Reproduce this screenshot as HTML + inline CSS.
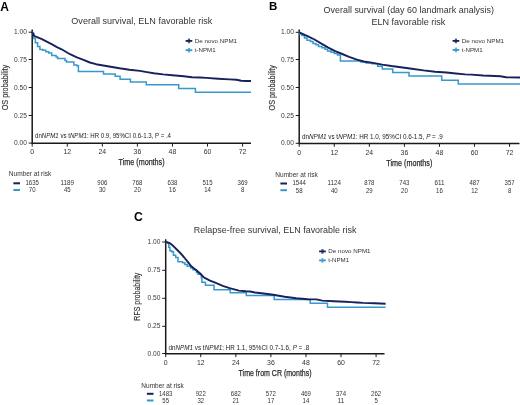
<!DOCTYPE html><html><head><meta charset="utf-8"><style>html,body{margin:0;padding:0;background:#fff;}svg{display:block;will-change:transform;font-family:"Liberation Sans", sans-serif;}</style></head><body>
<svg width="520" height="405" viewBox="0 0 520 405">
<rect width="520" height="405" fill="#fff"/>
<text x="0.3" y="10.6" font-size="12.0" text-anchor="start" fill="#000" font-weight="bold">A</text>
<text x="268.9" y="10" font-size="11.5" text-anchor="start" fill="#000" font-weight="bold">B</text>
<text x="134" y="221" font-size="12.2" text-anchor="start" fill="#000" font-weight="bold">C</text>
<text x="141.8" y="24.3" font-size="9.9" text-anchor="middle" fill="#333" textLength="141" lengthAdjust="spacingAndGlyphs">Overall survival, ELN favorable risk</text>
<text x="408.8" y="13.3" font-size="9.9" text-anchor="middle" fill="#333" textLength="170.4" lengthAdjust="spacingAndGlyphs">Overall survival (day 60 landmark analysis)</text>
<text x="408.4" y="24.6" font-size="9.9" text-anchor="middle" fill="#333" textLength="74" lengthAdjust="spacingAndGlyphs">ELN favorable risk</text>
<text x="275.2" y="233" font-size="9.9" text-anchor="middle" fill="#333" textLength="162.7" lengthAdjust="spacingAndGlyphs">Relapse-free survival, ELN favorable risk</text>
<path d="M32.2,29.4 V143.25 H251" fill="none" stroke="#1a1a1a" stroke-width="1.5"/>
<path d="M28.7,143.1 H32.2" stroke="#1a1a1a" stroke-width="1"/>
<text x="27" y="145.2" font-size="6.6" text-anchor="end" fill="#3a3a3a" textLength="12.9" lengthAdjust="spacingAndGlyphs">0.00</text>
<path d="M28.7,115.5 H32.2" stroke="#1a1a1a" stroke-width="1"/>
<text x="27" y="117.6" font-size="6.6" text-anchor="end" fill="#3a3a3a" textLength="12.9" lengthAdjust="spacingAndGlyphs">0.25</text>
<path d="M28.7,87.5 H32.2" stroke="#1a1a1a" stroke-width="1"/>
<text x="27" y="89.6" font-size="6.6" text-anchor="end" fill="#3a3a3a" textLength="12.9" lengthAdjust="spacingAndGlyphs">0.50</text>
<path d="M28.7,59.5 H32.2" stroke="#1a1a1a" stroke-width="1"/>
<text x="27" y="61.6" font-size="6.6" text-anchor="end" fill="#3a3a3a" textLength="12.9" lengthAdjust="spacingAndGlyphs">0.75</text>
<path d="M28.7,32.2 H32.2" stroke="#1a1a1a" stroke-width="1"/>
<text x="27" y="34.3" font-size="6.6" text-anchor="end" fill="#3a3a3a" textLength="12.9" lengthAdjust="spacingAndGlyphs">1.00</text>
<path d="M32.2,143.1 V146.6" stroke="#1a1a1a" stroke-width="1"/>
<text x="32.2" y="154.3" font-size="6.9" text-anchor="middle" fill="#333">0</text>
<path d="M67.26,143.1 V146.6" stroke="#1a1a1a" stroke-width="1"/>
<text x="67.26" y="154.3" font-size="6.9" text-anchor="middle" fill="#333">12</text>
<path d="M102.33,143.1 V146.6" stroke="#1a1a1a" stroke-width="1"/>
<text x="102.33" y="154.3" font-size="6.9" text-anchor="middle" fill="#333">24</text>
<path d="M137.39,143.1 V146.6" stroke="#1a1a1a" stroke-width="1"/>
<text x="137.39" y="154.3" font-size="6.9" text-anchor="middle" fill="#333">36</text>
<path d="M172.46,143.1 V146.6" stroke="#1a1a1a" stroke-width="1"/>
<text x="172.46" y="154.3" font-size="6.9" text-anchor="middle" fill="#333">48</text>
<path d="M207.52,143.1 V146.6" stroke="#1a1a1a" stroke-width="1"/>
<text x="207.52" y="154.3" font-size="6.9" text-anchor="middle" fill="#333">60</text>
<path d="M242.58,143.1 V146.6" stroke="#1a1a1a" stroke-width="1"/>
<text x="242.58" y="154.3" font-size="6.9" text-anchor="middle" fill="#333">72</text>
<text x="141.6" y="165.3" font-size="9.0" text-anchor="middle" fill="#2a2a2a" textLength="46" lengthAdjust="spacingAndGlyphs" stroke="#2a2a2a" stroke-width="0.25">Time (months)</text>
<text x="0" y="0" font-size="8.2" text-anchor="middle" fill="#333" textLength="45.5" lengthAdjust="spacingAndGlyphs" stroke="#333" stroke-width="0.15" transform="translate(8,87.55) rotate(-90)">OS probability</text>
<text x="35" y="138.3" font-size="7" fill="#222" textLength="136" lengthAdjust="spacingAndGlyphs">dn<tspan font-style="italic">NPM1</tspan> vs t<tspan font-style="italic">NPM1</tspan>: HR 0.9, 95%CI 0.6-1.3, P = .4</text>
<rect x="185.6" y="40" width="6.7" height="1.8" fill="#17215e"/>
<rect x="187.85" y="38.6" width="2.2" height="4.6" fill="#17215e" fill-opacity="0.75"/>
<rect x="185.6" y="49.3" width="6.7" height="1.8" fill="#3799cb"/>
<rect x="187.85" y="47.9" width="2.2" height="4.6" fill="#3799cb" fill-opacity="0.75"/>
<text x="194.8" y="42.9" font-size="5.8" text-anchor="start" fill="#333" textLength="42.3" lengthAdjust="spacingAndGlyphs">De novo NPM1</text>
<text x="194.8" y="52.2" font-size="5.8" text-anchor="start" fill="#333" textLength="20.8" lengthAdjust="spacingAndGlyphs">t-NPM1</text>
<text x="8.8" y="175.9" font-size="6.3" text-anchor="start" fill="#333" textLength="42.5" lengthAdjust="spacingAndGlyphs">Number at risk</text>
<rect x="13.4" y="182.3" width="6.6" height="2" fill="#17215e"/>
<rect x="13.4" y="189" width="6.6" height="2" fill="#3799cb"/>
<text x="32.2" y="185.3" font-size="6.9" text-anchor="middle" fill="#333" textLength="13.4" lengthAdjust="spacingAndGlyphs">1635</text>
<text x="32.2" y="192" font-size="6.9" text-anchor="middle" fill="#333" textLength="6.7" lengthAdjust="spacingAndGlyphs">70</text>
<text x="67.26" y="185.3" font-size="6.9" text-anchor="middle" fill="#333" textLength="13.4" lengthAdjust="spacingAndGlyphs">1189</text>
<text x="67.26" y="192" font-size="6.9" text-anchor="middle" fill="#333" textLength="6.7" lengthAdjust="spacingAndGlyphs">45</text>
<text x="102.33" y="185.3" font-size="6.9" text-anchor="middle" fill="#333" textLength="10.05" lengthAdjust="spacingAndGlyphs">906</text>
<text x="102.33" y="192" font-size="6.9" text-anchor="middle" fill="#333" textLength="6.7" lengthAdjust="spacingAndGlyphs">30</text>
<text x="137.39" y="185.3" font-size="6.9" text-anchor="middle" fill="#333" textLength="10.05" lengthAdjust="spacingAndGlyphs">768</text>
<text x="137.39" y="192" font-size="6.9" text-anchor="middle" fill="#333" textLength="6.7" lengthAdjust="spacingAndGlyphs">20</text>
<text x="172.46" y="185.3" font-size="6.9" text-anchor="middle" fill="#333" textLength="10.05" lengthAdjust="spacingAndGlyphs">638</text>
<text x="172.46" y="192" font-size="6.9" text-anchor="middle" fill="#333" textLength="6.7" lengthAdjust="spacingAndGlyphs">16</text>
<text x="207.52" y="185.3" font-size="6.9" text-anchor="middle" fill="#333" textLength="10.05" lengthAdjust="spacingAndGlyphs">515</text>
<text x="207.52" y="192" font-size="6.9" text-anchor="middle" fill="#333" textLength="6.7" lengthAdjust="spacingAndGlyphs">14</text>
<text x="242.58" y="185.3" font-size="6.9" text-anchor="middle" fill="#333" textLength="10.05" lengthAdjust="spacingAndGlyphs">369</text>
<text x="242.58" y="192" font-size="6.9" text-anchor="middle" fill="#333" textLength="3.35" lengthAdjust="spacingAndGlyphs">8</text>
<path d="M299.2,29.5 V143.45 H519.5" fill="none" stroke="#1a1a1a" stroke-width="1.5"/>
<path d="M295.7,143.3 H299.2" stroke="#1a1a1a" stroke-width="1"/>
<text x="294" y="145.4" font-size="6.6" text-anchor="end" fill="#3a3a3a" textLength="12.9" lengthAdjust="spacingAndGlyphs">0.00</text>
<path d="M295.7,115.5 H299.2" stroke="#1a1a1a" stroke-width="1"/>
<text x="294" y="117.6" font-size="6.6" text-anchor="end" fill="#3a3a3a" textLength="12.9" lengthAdjust="spacingAndGlyphs">0.25</text>
<path d="M295.7,87.5 H299.2" stroke="#1a1a1a" stroke-width="1"/>
<text x="294" y="89.6" font-size="6.6" text-anchor="end" fill="#3a3a3a" textLength="12.9" lengthAdjust="spacingAndGlyphs">0.50</text>
<path d="M295.7,59.5 H299.2" stroke="#1a1a1a" stroke-width="1"/>
<text x="294" y="61.6" font-size="6.6" text-anchor="end" fill="#3a3a3a" textLength="12.9" lengthAdjust="spacingAndGlyphs">0.75</text>
<path d="M295.7,32.3 H299.2" stroke="#1a1a1a" stroke-width="1"/>
<text x="294" y="34.4" font-size="6.6" text-anchor="end" fill="#3a3a3a" textLength="12.9" lengthAdjust="spacingAndGlyphs">1.00</text>
<path d="M299.2,143.3 V146.8" stroke="#1a1a1a" stroke-width="1"/>
<text x="299.2" y="154.5" font-size="6.9" text-anchor="middle" fill="#333">0</text>
<path d="M334.26,143.3 V146.8" stroke="#1a1a1a" stroke-width="1"/>
<text x="334.26" y="154.5" font-size="6.9" text-anchor="middle" fill="#333">12</text>
<path d="M369.33,143.3 V146.8" stroke="#1a1a1a" stroke-width="1"/>
<text x="369.33" y="154.5" font-size="6.9" text-anchor="middle" fill="#333">24</text>
<path d="M404.39,143.3 V146.8" stroke="#1a1a1a" stroke-width="1"/>
<text x="404.39" y="154.5" font-size="6.9" text-anchor="middle" fill="#333">36</text>
<path d="M439.46,143.3 V146.8" stroke="#1a1a1a" stroke-width="1"/>
<text x="439.46" y="154.5" font-size="6.9" text-anchor="middle" fill="#333">48</text>
<path d="M474.52,143.3 V146.8" stroke="#1a1a1a" stroke-width="1"/>
<text x="474.52" y="154.5" font-size="6.9" text-anchor="middle" fill="#333">60</text>
<path d="M509.58,143.3 V146.8" stroke="#1a1a1a" stroke-width="1"/>
<text x="509.58" y="154.5" font-size="6.9" text-anchor="middle" fill="#333">72</text>
<text x="409.35" y="165.5" font-size="9.0" text-anchor="middle" fill="#2a2a2a" textLength="46" lengthAdjust="spacingAndGlyphs" stroke="#2a2a2a" stroke-width="0.25">Time (months)</text>
<text x="0" y="0" font-size="8.2" text-anchor="middle" fill="#333" textLength="45.5" lengthAdjust="spacingAndGlyphs" stroke="#333" stroke-width="0.15" transform="translate(275,87.75) rotate(-90)">OS probability</text>
<text x="302" y="138.9" font-size="7" fill="#222" textLength="140.8" lengthAdjust="spacingAndGlyphs">dn<tspan font-style="italic">NPM1</tspan> vs t<tspan font-style="italic">NPM1</tspan>: HR 1.0, 95%CI 0.6-1.5, <tspan font-style="italic">P</tspan> = .9</text>
<rect x="452.6" y="40" width="6.7" height="1.8" fill="#17215e"/>
<rect x="454.85" y="38.6" width="2.2" height="4.6" fill="#17215e" fill-opacity="0.75"/>
<rect x="452.6" y="49.05" width="6.7" height="1.8" fill="#3799cb"/>
<rect x="454.85" y="47.65" width="2.2" height="4.6" fill="#3799cb" fill-opacity="0.75"/>
<text x="461.8" y="42.9" font-size="5.8" text-anchor="start" fill="#333" textLength="42.3" lengthAdjust="spacingAndGlyphs">De novo NPM1</text>
<text x="461.8" y="51.95" font-size="5.8" text-anchor="start" fill="#333" textLength="20.8" lengthAdjust="spacingAndGlyphs">t-NPM1</text>
<text x="275.3" y="176.8" font-size="6.3" text-anchor="start" fill="#333" textLength="42.5" lengthAdjust="spacingAndGlyphs">Number at risk</text>
<rect x="280.4" y="182.5" width="6.6" height="2" fill="#17215e"/>
<rect x="280.4" y="189.2" width="6.6" height="2" fill="#3799cb"/>
<text x="299.2" y="185.25" font-size="6.9" text-anchor="middle" fill="#333" textLength="13.4" lengthAdjust="spacingAndGlyphs">1544</text>
<text x="299.2" y="192.5" font-size="6.9" text-anchor="middle" fill="#333" textLength="6.7" lengthAdjust="spacingAndGlyphs">58</text>
<text x="334.26" y="185.25" font-size="6.9" text-anchor="middle" fill="#333" textLength="13.4" lengthAdjust="spacingAndGlyphs">1124</text>
<text x="334.26" y="192.5" font-size="6.9" text-anchor="middle" fill="#333" textLength="6.7" lengthAdjust="spacingAndGlyphs">40</text>
<text x="369.33" y="185.25" font-size="6.9" text-anchor="middle" fill="#333" textLength="10.05" lengthAdjust="spacingAndGlyphs">878</text>
<text x="369.33" y="192.5" font-size="6.9" text-anchor="middle" fill="#333" textLength="6.7" lengthAdjust="spacingAndGlyphs">29</text>
<text x="404.39" y="185.25" font-size="6.9" text-anchor="middle" fill="#333" textLength="10.05" lengthAdjust="spacingAndGlyphs">743</text>
<text x="404.39" y="192.5" font-size="6.9" text-anchor="middle" fill="#333" textLength="6.7" lengthAdjust="spacingAndGlyphs">20</text>
<text x="439.46" y="185.25" font-size="6.9" text-anchor="middle" fill="#333" textLength="10.05" lengthAdjust="spacingAndGlyphs">611</text>
<text x="439.46" y="192.5" font-size="6.9" text-anchor="middle" fill="#333" textLength="6.7" lengthAdjust="spacingAndGlyphs">16</text>
<text x="474.52" y="185.25" font-size="6.9" text-anchor="middle" fill="#333" textLength="10.05" lengthAdjust="spacingAndGlyphs">487</text>
<text x="474.52" y="192.5" font-size="6.9" text-anchor="middle" fill="#333" textLength="6.7" lengthAdjust="spacingAndGlyphs">12</text>
<text x="509.58" y="185.25" font-size="6.9" text-anchor="middle" fill="#333" textLength="10.05" lengthAdjust="spacingAndGlyphs">357</text>
<text x="509.58" y="192.5" font-size="6.9" text-anchor="middle" fill="#333" textLength="3.35" lengthAdjust="spacingAndGlyphs">8</text>
<path d="M165.7,239.2 V353.75 H384.5" fill="none" stroke="#1a1a1a" stroke-width="1.5"/>
<path d="M162.2,353.5 H165.7" stroke="#1a1a1a" stroke-width="1"/>
<text x="160.5" y="355.6" font-size="6.6" text-anchor="end" fill="#3a3a3a" textLength="12.9" lengthAdjust="spacingAndGlyphs">0.00</text>
<path d="M162.2,326.3 H165.7" stroke="#1a1a1a" stroke-width="1"/>
<text x="160.5" y="328.4" font-size="6.6" text-anchor="end" fill="#3a3a3a" textLength="12.9" lengthAdjust="spacingAndGlyphs">0.25</text>
<path d="M162.2,298.3 H165.7" stroke="#1a1a1a" stroke-width="1"/>
<text x="160.5" y="300.4" font-size="6.6" text-anchor="end" fill="#3a3a3a" textLength="12.9" lengthAdjust="spacingAndGlyphs">0.50</text>
<path d="M162.2,270.3 H165.7" stroke="#1a1a1a" stroke-width="1"/>
<text x="160.5" y="272.4" font-size="6.6" text-anchor="end" fill="#3a3a3a" textLength="12.9" lengthAdjust="spacingAndGlyphs">0.75</text>
<path d="M162.2,242 H165.7" stroke="#1a1a1a" stroke-width="1"/>
<text x="160.5" y="244.1" font-size="6.6" text-anchor="end" fill="#3a3a3a" textLength="12.9" lengthAdjust="spacingAndGlyphs">1.00</text>
<path d="M165.7,353.6 V357.1" stroke="#1a1a1a" stroke-width="1"/>
<text x="165.7" y="364.8" font-size="6.9" text-anchor="middle" fill="#333">0</text>
<path d="M200.76,353.6 V357.1" stroke="#1a1a1a" stroke-width="1"/>
<text x="200.76" y="364.8" font-size="6.9" text-anchor="middle" fill="#333">12</text>
<path d="M235.83,353.6 V357.1" stroke="#1a1a1a" stroke-width="1"/>
<text x="235.83" y="364.8" font-size="6.9" text-anchor="middle" fill="#333">24</text>
<path d="M270.89,353.6 V357.1" stroke="#1a1a1a" stroke-width="1"/>
<text x="270.89" y="364.8" font-size="6.9" text-anchor="middle" fill="#333">36</text>
<path d="M305.96,353.6 V357.1" stroke="#1a1a1a" stroke-width="1"/>
<text x="305.96" y="364.8" font-size="6.9" text-anchor="middle" fill="#333">48</text>
<path d="M341.02,353.6 V357.1" stroke="#1a1a1a" stroke-width="1"/>
<text x="341.02" y="364.8" font-size="6.9" text-anchor="middle" fill="#333">60</text>
<path d="M376.08,353.6 V357.1" stroke="#1a1a1a" stroke-width="1"/>
<text x="376.08" y="364.8" font-size="6.9" text-anchor="middle" fill="#333">72</text>
<text x="275.1" y="375.8" font-size="9.0" text-anchor="middle" fill="#2a2a2a" textLength="73" lengthAdjust="spacingAndGlyphs" stroke="#2a2a2a" stroke-width="0.25">Time from CR (months)</text>
<text x="0" y="0" font-size="8.2" text-anchor="middle" fill="#333" textLength="48" lengthAdjust="spacingAndGlyphs" stroke="#333" stroke-width="0.15" transform="translate(140.3,296.65) rotate(-90)">RFS probability</text>
<text x="168.5" y="350.4" font-size="7" fill="#222" textLength="140.8" lengthAdjust="spacingAndGlyphs">dn<tspan font-style="italic">NPM1</tspan> vs t<tspan font-style="italic">NPM1</tspan>: HR 1.1, 95%CI 0.7-1.6, <tspan font-style="italic">P</tspan> = .8</text>
<rect x="319.1" y="250.5" width="6.7" height="1.8" fill="#17215e"/>
<rect x="321.35" y="249.1" width="2.2" height="4.6" fill="#17215e" fill-opacity="0.75"/>
<rect x="319.1" y="259.5" width="6.7" height="1.8" fill="#3799cb"/>
<rect x="321.35" y="258.1" width="2.2" height="4.6" fill="#3799cb" fill-opacity="0.75"/>
<text x="328.3" y="253.4" font-size="5.8" text-anchor="start" fill="#333" textLength="42.3" lengthAdjust="spacingAndGlyphs">De novo NPM1</text>
<text x="328.3" y="262.4" font-size="5.8" text-anchor="start" fill="#333" textLength="20.8" lengthAdjust="spacingAndGlyphs">t-NPM1</text>
<text x="141.3" y="387.6" font-size="6.3" text-anchor="start" fill="#333" textLength="42.5" lengthAdjust="spacingAndGlyphs">Number at risk</text>
<rect x="146.9" y="392.8" width="6.6" height="2" fill="#17215e"/>
<rect x="146.9" y="399.5" width="6.6" height="2" fill="#3799cb"/>
<text x="165.7" y="395.8" font-size="6.9" text-anchor="middle" fill="#333" textLength="13.4" lengthAdjust="spacingAndGlyphs">1483</text>
<text x="165.7" y="402.5" font-size="6.9" text-anchor="middle" fill="#333" textLength="6.7" lengthAdjust="spacingAndGlyphs">55</text>
<text x="200.76" y="395.8" font-size="6.9" text-anchor="middle" fill="#333" textLength="10.05" lengthAdjust="spacingAndGlyphs">922</text>
<text x="200.76" y="402.5" font-size="6.9" text-anchor="middle" fill="#333" textLength="6.7" lengthAdjust="spacingAndGlyphs">32</text>
<text x="235.83" y="395.8" font-size="6.9" text-anchor="middle" fill="#333" textLength="10.05" lengthAdjust="spacingAndGlyphs">682</text>
<text x="235.83" y="402.5" font-size="6.9" text-anchor="middle" fill="#333" textLength="6.7" lengthAdjust="spacingAndGlyphs">21</text>
<text x="270.89" y="395.8" font-size="6.9" text-anchor="middle" fill="#333" textLength="10.05" lengthAdjust="spacingAndGlyphs">572</text>
<text x="270.89" y="402.5" font-size="6.9" text-anchor="middle" fill="#333" textLength="6.7" lengthAdjust="spacingAndGlyphs">17</text>
<text x="305.96" y="395.8" font-size="6.9" text-anchor="middle" fill="#333" textLength="10.05" lengthAdjust="spacingAndGlyphs">469</text>
<text x="305.96" y="402.5" font-size="6.9" text-anchor="middle" fill="#333" textLength="6.7" lengthAdjust="spacingAndGlyphs">14</text>
<text x="341.02" y="395.8" font-size="6.9" text-anchor="middle" fill="#333" textLength="10.05" lengthAdjust="spacingAndGlyphs">374</text>
<text x="341.02" y="402.5" font-size="6.9" text-anchor="middle" fill="#333" textLength="6.7" lengthAdjust="spacingAndGlyphs">11</text>
<text x="376.08" y="395.8" font-size="6.9" text-anchor="middle" fill="#333" textLength="10.05" lengthAdjust="spacingAndGlyphs">262</text>
<text x="376.08" y="402.5" font-size="6.9" text-anchor="middle" fill="#333" textLength="3.35" lengthAdjust="spacingAndGlyphs">5</text>
<path d="M32.2,32.2 H32.7 V33.6 H33.9 V38.4 H35.4 V42.8 H37.6 V46.5 H39.9 V49.5 H42.8 V50.2 H45.8 V51.7 H48.7 V52.9 H51.7 V55.4 H56.1 V56.9 H57.6 V58.4 H64.3 H65 V60.6 H66.5 V62.1 H72.4 H73.9 V65 H76.9 V65.8 H78.4 V71.6 H103.5 V74.1 H115.2 V76.2 H120.1 V79.3 H130.4 V81.9 H146.3 V84.8 H178.7 V88.6 H195.4 V92.2 H251" fill="none" stroke="#3799cb" stroke-width="1.5" stroke-linejoin="miter"/>
<path d="M32.2,32.2 L34.3,36 L37.1,37.2 L41.9,39.2 L45.8,41.2 L52.1,44.4 L56.9,47.1 L61.6,49.3 L70,54.2 L76.9,57.4 L82.8,59.7 L89.9,62.5 L96,64.2 L104.7,65.8 L112.1,67 L119.5,68.3 L129.4,69.8 L140,70.9 L146.9,72.1 L153.8,73.3 L163.1,74.4 L172.3,75.2 L183.8,76.2 L191.9,77.2 L200,77.5 L206.5,77.9 L218.1,78.7 L229.6,79.4 L236.5,79.8 L241.2,80.8 L245.8,81 L251,81" fill="none" stroke="#17215e" stroke-width="1.9" stroke-linejoin="round"/>
<path d="M299.2,32.3 H299.4 V33.9 H302 V35.5 H304.5 V38 H307 V40.2 H310.5 V41.6 H313 V43.4 H316 V44.8 H318.5 V46.4 H322 V47.8 H325 V49.3 H327.5 V50.9 H331 V52.2 H334.3 V53.6 H337.5 V55.1 H340.4 V60.9 H361 V62 H366 V63 H372 V63.8 H377.7 V66.2 H382.3 V69 H392.7 V72.5 H409 V76 H441.7 V80.2 H458.3 V84.1 H520" fill="none" stroke="#3799cb" stroke-width="1.5" stroke-linejoin="miter"/>
<path d="M299.2,32.3 L307.5,36.1 L314.5,39.5 L321.4,43.6 L328.3,47.6 L335.2,51.1 L342.2,54 L349.1,56.8 L356.9,59.6 L363.8,61.5 L373.1,62.9 L382.3,64.6 L391.5,66 L400.8,67.2 L410,68.5 L423.5,70.4 L435,71.7 L446.5,72.5 L455.8,73.5 L465,74.4 L471.5,74.6 L483,75.5 L494.6,76 L500.4,76.3 L506.2,77.3 L520,77.5" fill="none" stroke="#17215e" stroke-width="1.9" stroke-linejoin="round"/>
<path d="M165.7,242 H167.6 V243 H168.8 V247.2 H169.9 V250.7 H171.7 V251.8 H173.4 V255.3 H175.7 V257.6 H178 V261.7 H180.3 H182.6 V262.8 H184.9 V264.5 H187.2 V266.3 H190.7 V268 H193 V269.7 H196.5 V272.6 H197.9 V274.2 H201.3 V277.7 H201.9 V282.3 H205.4 V285.2 H212.9 H214 V289.8 H229.6 H230.2 V292.7 H245.8 H246.3 V295.6 H274.2 V299.6 H310.2 V303.2 H327.5 V307.3 H385.6" fill="none" stroke="#3799cb" stroke-width="1.5" stroke-linejoin="miter"/>
<path d="M165.7,242 L167,242.3 L169.9,243.2 L173.4,246.1 L176.8,249.5 L180.3,253 L183.8,257 L187.2,261.1 L190.7,265.7 L195.3,269.4 L199.6,273 L204.2,277.7 L210,280.6 L215.8,282.9 L222.7,285.8 L229.6,288.1 L238.8,290.6 L245.8,291.3 L250,291.5 L255,292.5 L261.5,293.3 L273.1,294.8 L284.6,296.7 L296.2,298.2 L307.7,299.3 L316.5,299.4 L322.3,300.6 L333.8,301.2 L345.4,301.7 L351.5,302.1 L356.9,302.5 L363.1,302.9 L374.6,303.2 L385.6,303.7" fill="none" stroke="#17215e" stroke-width="1.9" stroke-linejoin="round"/>
</svg></body></html>
